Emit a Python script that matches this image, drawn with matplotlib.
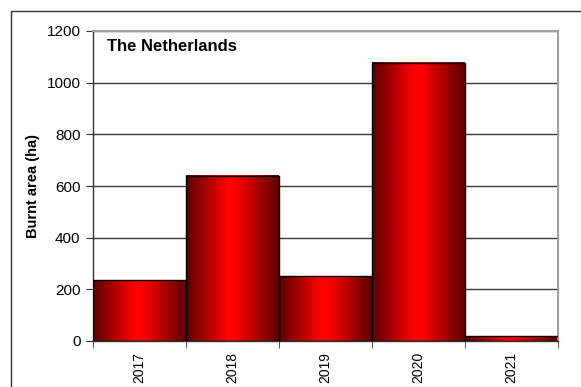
import numpy as np
import matplotlib
matplotlib.use('Agg')
import matplotlib.pyplot as plt
from matplotlib.colors import LinearSegmentedColormap
from matplotlib.patches import Rectangle

years = ['2017', '2018', '2019', '2020', '2021']
burnt_area = [235, 639, 251, 1078, 19]

plt.rcParams['font.family'] = ['Liberation Sans', 'DejaVu Sans']

W, H = 581, 387
fig = plt.figure(figsize=(W / 100, H / 100), dpi=100)
ax = fig.add_axes([93 / W, 1 - 341 / H, (558 - 93) / W, (341 - 31) / H])

# outer chart frame
fig.patches.append(Rectangle((11 / W, -0.1), 1.0, 1 - 11 / H + 0.1, transform=fig.transFigure,
                             fill=False, edgecolor='#333333', linewidth=1.0))

cmap = LinearSegmentedColormap.from_list('bar', [(0, '#5c0000'), (0.45, '#ff0000'),
                                                  (0.55, '#f80000'), (1, '#5a0000')])
grad = np.linspace(0, 1, 256).reshape(1, -1)

x = np.arange(len(years))
for xi, v in zip(x, burnt_area):
    ax.imshow(grad, extent=[xi - 0.5, xi + 0.5, 0, v], aspect='auto', cmap=cmap,
              interpolation='bicubic', zorder=2)
ax.bar(x, burnt_area, width=1.0, facecolor='none', edgecolor='black', linewidth=1.0, zorder=3)

ax.set_xlim(-0.5, len(years) - 0.5)
ax.set_ylim(0, 1200)
ax.set_yticks(range(0, 1201, 200))
ax.yaxis.grid(True, color='#3a3a3a', linewidth=1.0, zorder=1)
ax.set_axisbelow(True)

ax.set_xticks(x)
ax.set_xticklabels(years, rotation=90, fontsize=10)
ax.set_xticks(np.arange(len(years) + 1) - 0.5, minor=True)
ax.tick_params(axis='x', which='major', length=0, pad=8)
ax.tick_params(axis='x', which='minor', length=5, color='#333333')
ax.tick_params(axis='y', length=5, color='#333333', labelsize=11, pad=4)

for side in ['top', 'right']:
    ax.spines[side].set_color('#a0a0a0')
    ax.spines[side].set_linewidth(1.5)
for side in ['left', 'bottom']:
    ax.spines[side].set_color('#333333')
    ax.spines[side].set_linewidth(1.0)

ax.set_ylabel('Burnt area (ha)', fontsize=10.5, fontweight='bold', labelpad=5)
ax.text(0.03, 0.975, 'The Netherlands', transform=ax.transAxes, fontsize=12,
        fontweight='bold', va='top', ha='left')

fig.savefig('out.png', dpi=100)
